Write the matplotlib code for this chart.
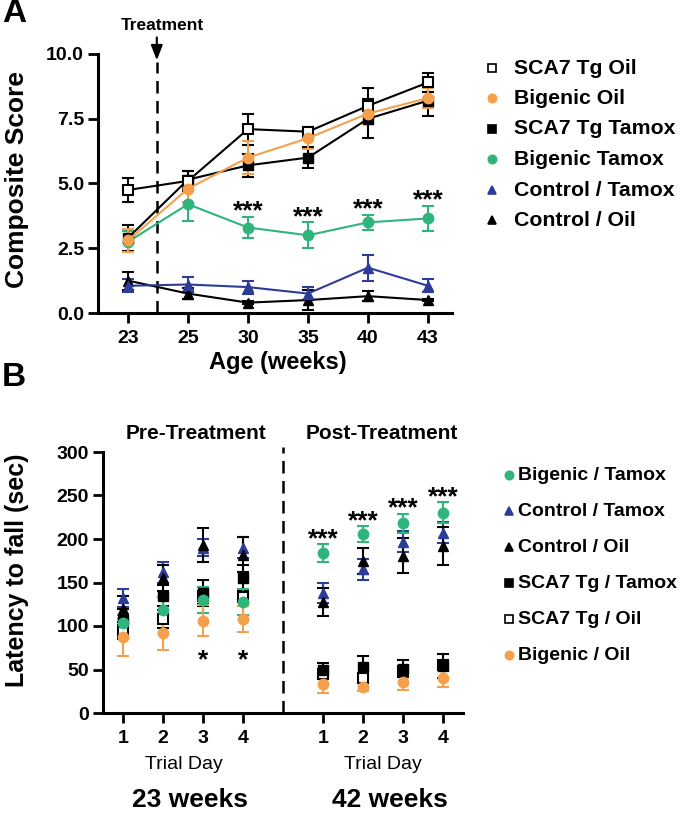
import matplotlib
matplotlib.use('Agg')
import matplotlib.pyplot as plt
from matplotlib.lines import Line2D
import numpy as np

plt.rcParams['font.family'] = ['Liberation Sans', 'DejaVu Sans']
plt.rcParams['font.weight'] = 'bold'

# ---------------- Panel A data ----------------
ages = ['23', '25', '30', '35', '40', '43']
a_sca7_oil = [4.75, 5.1, 7.1, 7.0, 8.0, 8.9]
a_sca7_oil_err = [0.45, 0.4, 0.6, 0.2, 0.7, 0.35]
a_big_oil = [2.8, 4.8, 6.0, 6.75, 7.7, 8.3]
a_big_oil_err = [0.45, 0.5, 0.65, 0.4, 0.4, 0.4]
a_sca7_tam = [2.9, 5.15, 5.7, 6.0, 7.5, 8.2]
a_sca7_tam_err = [0.5, 0.35, 0.45, 0.4, 0.75, 0.6]
a_big_tam = [2.75, 4.2, 3.3, 3.0, 3.5, 3.65]
a_big_tam_err = [0.4, 0.65, 0.4, 0.5, 0.3, 0.5]
a_ctl_tam = [1.05, 1.1, 1.0, 0.75, 1.75, 1.05]
a_ctl_tam_err = [0.25, 0.3, 0.25, 0.25, 0.5, 0.25]
a_ctl_oil = [1.25, 0.75, 0.4, 0.5, 0.65, 0.5]
a_ctl_oil_err = [0.35, 0.2, 0.05, 0.4, 0.2, 0.05]
a_star_idx = [2, 3, 4, 5]

# ---------------- Panel B data ----------------
days = ['1', '2', '3', '4']
b_big_tam = [103, 118, 130, 128, 184, 206, 218, 230]
b_big_tam_err = [10, 15, 15, 15, 10, 9, 11, 12]
b_ctl_tam = [132, 162, 190, 190, 138, 165, 197, 207]
b_ctl_tam_err = [10, 12, 10, 12, 12, 12, 12, 12]
b_ctl_oil = [120, 155, 193, 182, 128, 175, 181, 192]
b_ctl_oil_err = [15, 15, 20, 20, 16, 15, 20, 22]
b_sca7_tam = [107, 135, 138, 155, 49, 53, 51, 54]
b_sca7_tam_err = [12, 12, 15, 15, 8, 12, 10, 14]
b_sca7_oil = [93, 108, 135, 133, 45, 40, 48, 55]
b_sca7_oil_err = [8, 10, 10, 10, 6, 6, 6, 6]
b_big_oil = [87, 92, 106, 108, 33, 30, 36, 40]
b_big_oil_err = [21, 20, 18, 15, 10, 5, 9, 10]
b_pre_star_idx = [2, 3]
b_post_star_idx = [4, 5, 6, 7]

ORANGE = '#F5A04C'
GREEN = '#2FB57C'
BLUE = '#2C3C98'
BLACK = '#000000'

W, H = 686, 813
fig = plt.figure(figsize=(W / 100, H / 100), dpi=100)


def fx(px):
    return px / W


def fy(py):
    return 1 - py / H


def style_axes(ax):
    for s in ['top', 'right']:
        ax.spines[s].set_visible(False)
    for s in ['left', 'bottom']:
        ax.spines[s].set_linewidth(2.2)
    ax.tick_params(width=2.0, length=7, direction='out', labelsize=14, pad=3)
    ax.tick_params(axis='x', pad=5)
    for lab in ax.get_xticklabels() + ax.get_yticklabels():
        lab.set_fontweight('bold')


# ---------------- Panel A ----------------
axA = fig.add_axes([fx(98), fy(313), fx(452) - fx(98), fy(54) - fy(313)])
xa = np.arange(len(ages))
ebkw = dict(elinewidth=1.5, capsize=4.5, capthick=1.5, linewidth=1.5, markersize=7.5)
seriesA = [
    ('Control / Oil', a_ctl_oil, a_ctl_oil_err, dict(color=BLACK, marker='^', mfc=BLACK, mec=BLACK)),
    ('Control / Tamox', a_ctl_tam, a_ctl_tam_err, dict(color=BLUE, marker='^', mfc=BLUE, mec=BLUE)),
    ('Bigenic Tamox', a_big_tam, a_big_tam_err, dict(color=GREEN, marker='o', mfc=GREEN, mec=GREEN)),
    ('SCA7 Tg Tamox', a_sca7_tam, a_sca7_tam_err, dict(color=BLACK, marker='s', mfc=BLACK, mec=BLACK)),
    ('SCA7 Tg Oil', a_sca7_oil, a_sca7_oil_err, dict(color=BLACK, marker='s', mfc='white', mec=BLACK, mew=1.5)),
    ('Bigenic Oil', a_big_oil, a_big_oil_err, dict(color=ORANGE, marker='o', mfc=ORANGE, mec=ORANGE)),
]
for name, y, e, st in seriesA:
    axA.errorbar(xa, y, yerr=e, ecolor=st['color'], **st, **ebkw, clip_on=False, zorder=3)

axA.set_xlim(-0.5, 5.4)
axA.set_ylim(0, 10)
axA.set_xticks(xa)
axA.set_xticklabels(ages)
axA.set_yticks([0, 2.5, 5, 7.5, 10])
axA.set_yticklabels(['0.0', '2.5', '5.0', '7.5', '10.0'])
style_axes(axA)

for i in a_star_idx:
    axA.text(xa[i], a_big_tam[i] + a_big_tam_err[i] - 0.25, '***', ha='center', va='bottom',
             fontsize=19, fontweight='bold')

tx = 0.48
axA.plot([tx, tx], [0, 9.7], ls=(0, (5, 3)), color=BLACK, lw=1.8, clip_on=False)
axA.annotate('', xy=(tx, 9.65), xytext=(tx, 10.75), xycoords='data',
             arrowprops=dict(arrowstyle='-|>,head_length=0.9,head_width=0.35', color=BLACK, lw=1.5),
             annotation_clip=False)
fig.text(fx(162), fy(25), 'Treatment', ha='center', va='center', fontsize=12.5, fontweight='bold')

fig.text(fx(17), fy(180), 'Composite Score', rotation=90, ha='center', va='center',
         fontsize=19, fontweight='bold')
fig.text(fx(278), fy(362), 'Age (weeks)', ha='center', va='center', fontsize=17, fontweight='bold')
fig.text(fx(14), fy(14), 'A', ha='center', va='center', fontsize=24, fontweight='bold')

# legend A
legA_order = ['SCA7 Tg Oil', 'Bigenic Oil', 'SCA7 Tg Tamox', 'Bigenic Tamox', 'Control / Tamox', 'Control / Oil']
stA = {n: s for n, _, _, s in seriesA}
for k, name in enumerate(legA_order):
    py = 68 + k * 30.5
    st = dict(stA[name])
    fig.add_artist(Line2D([fx(492)], [fy(py)], transform=fig.transFigure, linestyle='none',
                          marker=st['marker'], markersize=6, markerfacecolor=st['mfc'],
                          markeredgecolor=st['mec'], markeredgewidth=1.2))
    fig.text(fx(514), fy(py), name, ha='left', va='center', fontsize=15.3, fontweight='bold')

# ---------------- Panel B ----------------
axB = fig.add_axes([fx(103), fy(713), fx(463) - fx(103), fy(452) - fy(713)])
xb = np.array([1, 2, 3, 4, 6, 7, 8, 9])
ebkwB = dict(elinewidth=1.5, capsize=4.5, capthick=1.5, linestyle='none', markersize=7.5)
seriesB = [
    ('Control / Tamox', b_ctl_tam, b_ctl_tam_err, dict(color=BLUE, marker='^', mfc=BLUE, mec=BLUE)),
    ('Control / Oil', b_ctl_oil, b_ctl_oil_err, dict(color=BLACK, marker='^', mfc=BLACK, mec=BLACK)),
    ('SCA7 Tg / Oil', b_sca7_oil, b_sca7_oil_err, dict(color=BLACK, marker='s', mfc='white', mec=BLACK, mew=1.5)),
    ('SCA7 Tg / Tamox', b_sca7_tam, b_sca7_tam_err, dict(color=BLACK, marker='s', mfc=BLACK, mec=BLACK)),
    ('Bigenic / Tamox', b_big_tam, b_big_tam_err, dict(color=GREEN, marker='o', mfc=GREEN, mec=GREEN)),
    ('Bigenic / Oil', b_big_oil, b_big_oil_err, dict(color=ORANGE, marker='o', mfc=ORANGE, mec=ORANGE)),
]
for name, y, e, st in seriesB:
    axB.errorbar(xb, y, yerr=e, ecolor=st['color'], **st, **ebkwB, zorder=3)

axB.set_xlim(0.5, 9.5)
axB.set_ylim(0, 300)
axB.set_xticks(xb)
axB.set_xticklabels(days + days)
axB.set_yticks([0, 50, 100, 150, 200, 250, 300])
style_axes(axB)
axB.plot([5, 5], [0, 306], ls=(0, (5, 3)), color=BLACK, lw=1.8, clip_on=False)

for i in b_post_star_idx:
    axB.text(xb[i], b_big_tam[i] + b_big_tam_err[i] - 8, '***', ha='center', va='bottom',
             fontsize=19, fontweight='bold')
for i in b_pre_star_idx:
    axB.text(xb[i], 47, '*', ha='center', va='bottom', fontsize=19, fontweight='bold')

fig.text(fx(196), fy(433), 'Pre-Treatment', ha='center', va='center', fontsize=15, fontweight='bold')
fig.text(fx(382), fy(433), 'Post-Treatment', ha='center', va='center', fontsize=15, fontweight='bold')
fig.text(fx(184), fy(764), 'Trial Day', ha='center', va='center', fontsize=14, fontweight='normal')
fig.text(fx(383), fy(764), 'Trial Day', ha='center', va='center', fontsize=14, fontweight='normal')
fig.text(fx(190), fy(800), '23 weeks', ha='center', va='center', fontsize=19, fontweight='bold')
fig.text(fx(390), fy(800), '42 weeks', ha='center', va='center', fontsize=19, fontweight='bold')
fig.text(fx(17), fy(570), 'Latency to fall (sec)', rotation=90, ha='center', va='center',
         fontsize=18, fontweight='bold')
fig.text(fx(14), fy(378), 'B', ha='center', va='center', fontsize=24, fontweight='bold')

legB_order = ['Bigenic / Tamox', 'Control / Tamox', 'Control / Oil', 'SCA7 Tg / Tamox', 'SCA7 Tg / Oil', 'Bigenic / Oil']
stB = {n: s for n, _, _, s in seriesB}
for k, name in enumerate(legB_order):
    py = 475 + k * 36
    st = dict(stB[name])
    fig.add_artist(Line2D([fx(509)], [fy(py)], transform=fig.transFigure, linestyle='none',
                          marker=st['marker'], markersize=6, markerfacecolor=st['mfc'],
                          markeredgecolor=st['mec'], markeredgewidth=1.2))
    fig.text(fx(518), fy(py), name, ha='left', va='center', fontsize=14, fontweight='bold')

fig.savefig('out.png', dpi=100)
